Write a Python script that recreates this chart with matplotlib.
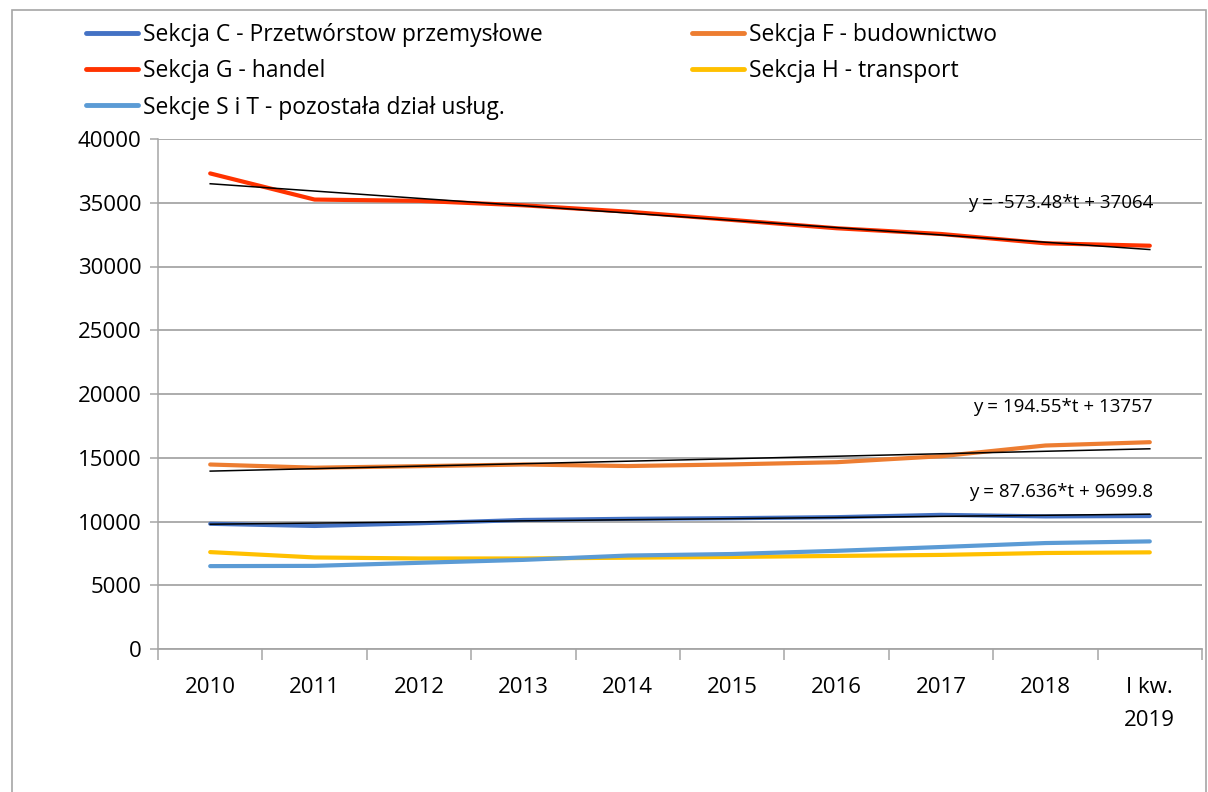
import matplotlib
matplotlib.use("Agg")
import matplotlib.pyplot as plt
import numpy as np
from matplotlib.patches import Rectangle

plt.rcParams['font.family'] = ['Open Sans', 'DejaVu Sans']

# data
lata = ["2010", "2011", "2012", "2013", "2014", "2015", "2016", "2017", "2018", "I kw.\n2019"]
sekcja_c = [9820, 9650, 9860, 10120, 10210, 10260, 10340, 10520, 10400, 10430]
sekcja_f = [14470, 14220, 14340, 14470, 14350, 14480, 14650, 15120, 15960, 16220]
sekcja_g = [37300, 35250, 35150, 34800, 34300, 33650, 33000, 32550, 31820, 31630]
sekcja_h = [7600, 7180, 7100, 7100, 7160, 7220, 7300, 7380, 7530, 7580]
sekcja_st = [6500, 6520, 6760, 6990, 7330, 7450, 7700, 8000, 8310, 8440]

# trend lines as printed on the chart (t = 1..10)
trend_g = (-573.48, 37064)
trend_f = (194.55, 13757)
trend_c = (87.636, 9699.8)
trend_labels = ["y = -573.48*t + 37064", "y = 194.55*t + 13757", "y = 87.636*t + 9699.8"]

fig = plt.figure(figsize=(12.08, 7.92), dpi=100)
fig.patches.append(Rectangle((12/1208, -0.01), (1206-12)/1208, 1 - 10/792 + 0.01,
                             transform=fig.transFigure, fill=False,
                             edgecolor='#a6a6a6', lw=1.2))
ax = fig.add_axes([158/1208, 1 - 649/792, (1202-158)/1208, 510/792])

x = np.arange(len(lata))
t = x + 1

l_c, = ax.plot(x, sekcja_c, color='#4472C4', lw=3, label='Sekcja C - Przetwórstow przemysłowe', solid_capstyle='round')
l_f, = ax.plot(x, sekcja_f, color='#ED7D31', lw=3, label='Sekcja F - budownictwo', solid_capstyle='round')
l_g, = ax.plot(x, sekcja_g, color='#FF3300', lw=3, label='Sekcja G - handel', solid_capstyle='round')
l_h, = ax.plot(x, sekcja_h, color='#FFC000', lw=3, label='Sekcja H - transport', solid_capstyle='round')
l_s, = ax.plot(x, sekcja_st, color='#5B9BD5', lw=3, label='Sekcje S i T - pozostała dział usług.', solid_capstyle='round')

for (a, b) in [trend_g, trend_f, trend_c]:
    ax.plot(x, a * t + b, color='black', lw=1.1, zorder=5)

ax.text(9.5 - 0.47, 35000, trend_labels[0], ha='right', va='center', fontsize=13.5)
ax.text(9.5 - 0.47, 19000, trend_labels[1], ha='right', va='center', fontsize=13.5)
ax.text(9.5 - 0.47, 12300, trend_labels[2], ha='right', va='center', fontsize=13.5)

ax.set_xlim(-0.5, 9.5)
ax.set_ylim(0, 40000)
ax.set_yticks(range(0, 40001, 5000))
ax.yaxis.grid(True, color='#a6a6a6', lw=1.3)
ax.set_axisbelow(True)
for s in ['top', 'right']:
    ax.spines[s].set_visible(False)
ax.spines['left'].set_color('#a6a6a6')
ax.spines['bottom'].set_color('#a6a6a6')
ax.spines['left'].set_linewidth(1.1)
ax.spines['bottom'].set_linewidth(1.3)

ax.set_xticks(x)
ax.set_xticklabels(lata, fontsize=16, linespacing=1.75, va='top')
ax.set_xticks(np.arange(-0.5, 10, 1), minor=True)
ax.tick_params(axis='x', which='major', length=0, pad=20)
ax.tick_params(axis='x', which='minor', length=8, color='#a6a6a6', width=1.1)
ax.tick_params(axis='y', length=6, color='#a6a6a6', width=1.1, labelsize=16, pad=6)

leg = ax.legend([l_c, l_g, l_s, l_f, l_h],
                [l.get_label() for l in [l_c, l_g, l_s, l_f, l_h]],
                ncol=2, loc='upper left', bbox_to_anchor=(-0.078, 1.245),
                frameon=False, fontsize=16.5, handlelength=2.3, handletextpad=0.2,
                columnspacing=6.5, labelspacing=0.53, borderaxespad=0)
for h in leg.get_lines():
    h.set_linewidth(3.5)

fig.savefig("out.png", dpi=100)
